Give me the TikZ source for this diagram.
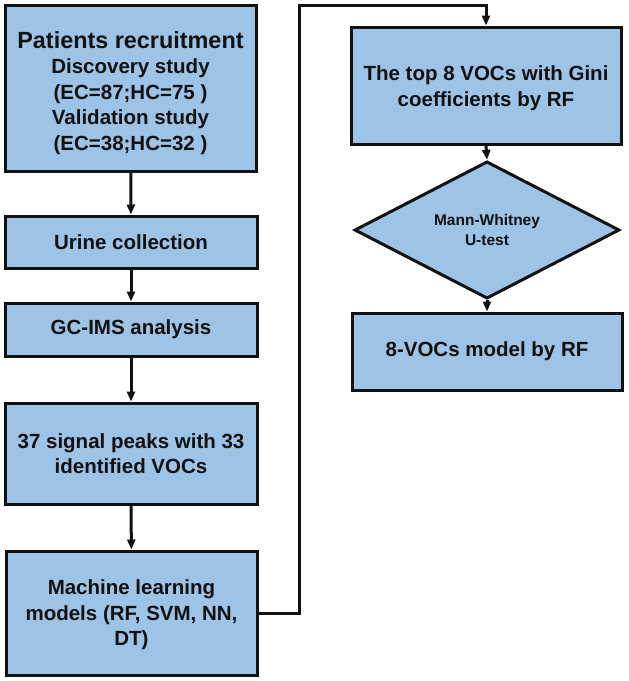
\documentclass[tikz,border=0pt]{standalone}
\usepackage{fontspec}
\setmainfont{Liberation Sans}
\usetikzlibrary{shapes.geometric,arrows.meta}
\definecolor{boxfill}{HTML}{9DC3E6}
\definecolor{ink}{HTML}{111111}
\tikzset{
  stepbox/.style={draw=ink, fill=boxfill, line width=3pt, rectangle, inner sep=0pt, align=center,
    text=ink, font=\bfseries\fontsize{20.5}{25.5}\selectfont},
  steptext/.style={inner sep=0pt, align=center, text=ink, font=\bfseries\fontsize{20.5}{25.5}\selectfont},
  decide/.style={draw=ink, fill=boxfill, line width=3pt, diamond, inner sep=0pt, align=center,
    text=ink, font=\bfseries\fontsize{15.5}{20}\selectfont},
  conn/.style={draw=ink, line width=3pt, -{Triangle[length=10pt,width=8pt]}}
}
\begin{document}
\begin{tikzpicture}[x=1pt,y=-1pt]
\useasboundingbox (0,0) rectangle (629,681);
\node[stepbox, minimum width=251pt, minimum height=166pt] (b1) at (130.5,88.5) {};
\node[steptext] (b1t) at (130.5,93)
  {{\fontsize{23.4}{28}\selectfont Patients recruitment}\\Discovery study\\(EC=87;HC=75 )\\Validation study\\(EC=38;HC=32 )};
\node[stepbox, minimum width=252pt, minimum height=52pt] (b2) at (131,242) {Urine collection};
\node[stepbox, minimum width=252pt, minimum height=53pt] (b3) at (131,329.5) {GC-IMS analysis};
\node[stepbox, minimum width=252pt, minimum height=101pt] (b4) at (131,453.5) {37 signal peaks with 33\\identified VOCs};
\node[stepbox, minimum width=251pt, minimum height=124pt] (b5) at (131.5,613) {};
\node[steptext] (b5t) at (131.5,615) {Machine learning\\models (RF, SVM, NN,\\DT)};
\node[stepbox, minimum width=270pt, minimum height=117pt] (b6) at (486,85.5) {};
\node[steptext] (b6t) at (486,88) {The top 8 VOCs with Gini\\coefficients by RF};
\node[decide, minimum width=265pt, minimum height=76pt] (d1) at (487,230) {Mann-Whitney\\U-test};
\node[stepbox, minimum width=270pt, minimum height=77pt] (b7) at (487,351.5) {8-VOCs model by RF};
\coordinate (c1) at (299,613);
\coordinate (c2) at (299,5);
\coordinate (c3) at (486,5);
\draw[conn] (b1) -- (b2);
\draw[conn] (b2) -- (b3);
\draw[conn] (b3) -- (b4);
\draw[conn] (b4) -- (b5);
\draw[conn, line join=miter] (b5.east) -- (c1) -- (c2) -- (c3) -- (b6.north);
\draw[conn] (b6.south) -- (d1.north);
\draw[conn] (d1.south) -- (b7.north);
\end{tikzpicture}
\end{document}
